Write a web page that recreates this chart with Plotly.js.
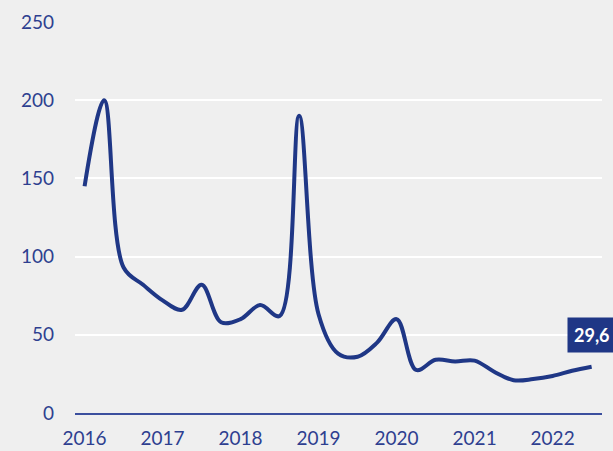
<!DOCTYPE html>
<html>
<head>
<meta charset="utf-8">
<script src="https://cdn.plot.ly/plotly-3.0.1.min.js"></script>
<style>html,body{margin:0;padding:0;background:#efefef;}#chart{width:613px;height:451px;}</style>
</head>
<body>
<div id="chart"></div>
<script>
// Quarterly observations (decimal year)
const dates = [2016.0, 2016.25, 2016.5, 2016.75, 2017.0, 2017.25, 2017.5, 2017.75,
               2018.0, 2018.25, 2018.5, 2018.75, 2019.0, 2019.25, 2019.5, 2019.75,
               2020.0, 2020.25, 2020.5, 2020.75, 2021.0, 2021.25, 2021.5, 2021.75,
               2022.0, 2022.25, 2022.5];
const values = [145, 200, 93, 82, 72, 66, 82, 58,
                60, 69, 62, 190, 63, 38, 36, 45,
                60, 27.5, 34, 33, 33.5, 26.4, 21, 21.7,
                23.7, 27, 29.6];
const tickVals = [2016, 2017, 2018, 2019, 2020, 2021, 2022];
const tickText = ['2016', '2017', '2018', '2019', '2020', '2021', '2022'];
const lastLabel = '29,6';

const blue = '#1f3786';
const trace = {
  x: dates, y: values, type: 'scatter', mode: 'lines',
  line: {color: blue, width: 4, shape: 'spline', smoothing: 1},
  hoverinfo: 'skip'
};
const layout = {
  width: 613, height: 451,
  paper_bgcolor: '#efefef', plot_bgcolor: '#efefef',
  margin: {l: 75, r: 11, t: 22, b: 38},
  showlegend: false,
  font: {family: 'Lato, sans-serif', color: '#2e3f90', size: 19},
  xaxis: {
    range: [2015.877, 2022.633], tickvals: tickVals, ticktext: tickText,
    showgrid: false, zeroline: false, showline: true, linecolor: '#3b4f9e', linewidth: 2,
    ticks: '', ticklabelstandoff: 7, tickfont: {size: 19, color: '#2e3f90'}
  },
  yaxis: {
    range: [0, 250], dtick: 50, tick0: 0,
    showgrid: true, gridcolor: '#ffffff', gridwidth: 2, zeroline: false,
    showline: false, ticks: '', ticklabelstandoff: 20,
    tickfont: {size: 19, color: '#2e3f90'}
  },
  annotations: [{
    x: dates[dates.length - 1], y: values[values.length - 1], xref: 'x', yref: 'y',
    text: '<b>' + lastLabel + '</b>', showarrow: false,
    xanchor: 'center', yanchor: 'bottom', yshift: 14,
    bgcolor: blue, borderpad: 6,
    font: {family: 'Lato, sans-serif', size: 18, color: '#ffffff'}
  }]
};
Plotly.newPlot('chart', [trace], layout, {displayModeBar: false, staticPlot: true});
</script>
</body>
</html>
